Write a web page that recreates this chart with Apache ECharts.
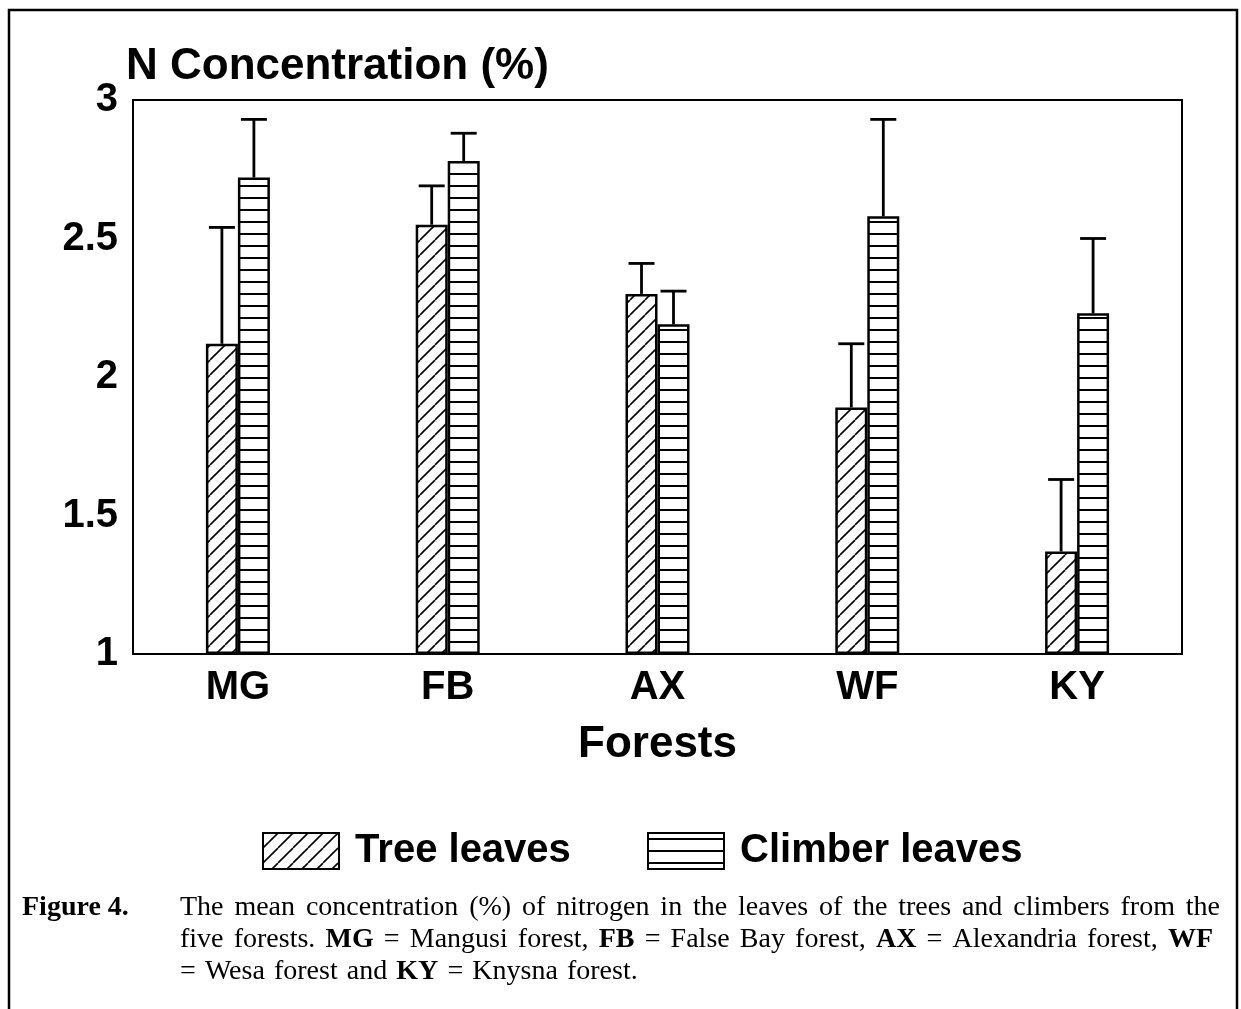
<!DOCTYPE html>
<html><head><meta charset="utf-8">
<script src="https://cdn.jsdelivr.net/npm/echarts@6/dist/echarts.min.js"></script>
<style>html,body{margin:0;padding:0;background:#fff}#c{width:1241px;height:1009px}</style>
</head><body><div id="c"></div>
<script>
// ---- data ----
const categories = ['MG', 'FB', 'AX', 'WF', 'KY'];
const treeMean = [2.12, 2.55, 2.30, 1.89, 1.37];
const treeUpper = [2.54, 2.69, 2.41, 2.12, 1.63];
const climberMean = [2.72, 2.78, 2.19, 2.58, 2.23];
const climberUpper = [2.93, 2.88, 2.31, 2.93, 2.50];
const seriesNames = ['Tree leaves', 'Climber leaves'];
const titleText = 'N Concentration (%)';
const xAxisName = 'Forests';
const captionLabel = 'Figure 4.';
const captionLines = [
  'The mean concentration (%) of nitrogen in the leaves of the trees and climbers from the',
  'five forests. **MG** = Mangusi forest, **FB** = False Bay forest, **AX** = Alexandria forest, **WF**',
  '= Wesa forest and **KY** = Knysna forest.'
];

// ---- patterns ----
function diagPattern() {
  const s = 15, c = document.createElement('canvas');
  c.width = s; c.height = s;
  const g = c.getContext('2d');
  g.fillStyle = '#fff'; g.fillRect(0, 0, s, s);
  g.strokeStyle = '#000'; g.lineWidth = 1.6;
  for (const o of [-s, 0, s]) {
    g.beginPath(); g.moveTo(o, s); g.lineTo(o + s, 0); g.stroke();
  }
  return c;
}
function horizPattern() {
  const c = document.createElement('canvas');
  c.width = 8; c.height = 12;
  const g = c.getContext('2d');
  g.fillStyle = '#fff'; g.fillRect(0, 0, 8, 12);
  g.fillStyle = '#000'; g.fillRect(0, 5, 8, 2);
  return c;
}
const treeFill = { image: diagPattern(), repeat: 'repeat' };
const climbFill = { image: horizPattern(), repeat: 'repeat' };

const SANS = '"Liberation Sans", Arial, Helvetica, sans-serif';
const SERIF = '"Liberation Serif", "Times New Roman", serif';

function errorSeries(means, uppers, offset) {
  return {
    type: 'custom',
    silent: true,
    z: 5,
    data: categories.map((c, i) => [i, means[i], uppers[i]]),
    encode: { x: 0, y: [1, 2] },
    renderItem: function (params, api) {
      const base = api.coord([api.value(0), api.value(1)]);
      const top = api.coord([api.value(0), api.value(2)]);
      const x = base[0] + offset;
      const st = { stroke: '#000', lineWidth: 2.8 };
      return {
        type: 'group',
        children: [
          { type: 'line', shape: { x1: x, y1: base[1], x2: x, y2: top[1] }, style: st },
          { type: 'line', shape: { x1: x - 13, y1: top[1], x2: x + 13, y2: top[1] }, style: st }
        ]
      };
    }
  };
}

// ---- caption layout (justified words) ----
const mctx = document.createElement('canvas').getContext('2d');
const CAP_SIZE = 28;
function measure(t, bold) {
  mctx.font = (bold ? 'bold ' : '') + CAP_SIZE + 'px ' + SERIF;
  return mctx.measureText(t).width;
}
const captionGraphics = [];
captionGraphics.push({
  type: 'text', x: 22, y: 908,
  style: { text: captionLabel, fontSize: CAP_SIZE, fontFamily: SERIF, fontWeight: 'bold', fill: '#000', verticalAlign: 'middle' }
});
const lineYs = [908, 940, 972];
const lineRight = [1220, 1213, null];
captionLines.forEach((line, li) => {
  const words = line.split(' ').map(w => {
    const bold = /^\*\*.*\*\*$/.test(w);
    const t = bold ? w.slice(2, -2) : w;
    return { t, bold, w: measure(t, bold) };
  });
  const sum = words.reduce((a, b) => a + b.w, 0);
  const gap = lineRight[li] ? (lineRight[li] - 180 - sum) / (words.length - 1) : measure(' ', false) * 1.3;
  let x = 180;
  words.forEach(wd => {
    captionGraphics.push({
      type: 'text', x: x, y: lineYs[li],
      style: { text: wd.t, fontSize: CAP_SIZE, fontFamily: SERIF, fontWeight: wd.bold ? 'bold' : 'normal', fill: '#000', verticalAlign: 'middle' }
    });
    x += wd.w + gap;
  });
});

const chart = echarts.init(document.getElementById('c'), null, { renderer: 'canvas' });
const legendText = { fontSize: 40, fontWeight: 'bold', color: '#000', fontFamily: SANS };
chart.setOption({
  animation: false,
  backgroundColor: '#fff',
  title: {
    text: titleText, left: 126, top: 45, padding: 0,
    textStyle: { fontSize: 44, fontWeight: 'bold', color: '#000', fontFamily: SANS }
  },
  grid: { left: 133, right: 59, top: 100, bottom: 355, show: true, borderColor: '#000', borderWidth: 2, containLabel: false },
  legend: [
    { data: [seriesNames[0]], left: 257, top: 826, itemWidth: 76, itemHeight: 36, icon: 'rect', formatter: ' {name}', selectedMode: false, textStyle: legendText },
    { data: [seriesNames[1]], left: 642, top: 826, itemWidth: 76, itemHeight: 36, icon: 'rect', formatter: ' {name}', selectedMode: false, textStyle: legendText }
  ],
  xAxis: {
    type: 'category', data: categories,
    axisLine: { lineStyle: { color: '#000', width: 2 } },
    axisTick: { show: false },
    axisLabel: { fontSize: 40, fontWeight: 'bold', color: '#000', fontFamily: SANS, margin: 14 },
    name: xAxisName, nameLocation: 'middle', nameGap: 69,
    nameTextStyle: { fontSize: 44, fontWeight: 'bold', color: '#000', fontFamily: SANS }
  },
  yAxis: {
    type: 'value', min: 1, max: 3, interval: 0.5, startValue: 1,
    axisLine: { show: true, lineStyle: { color: '#000', width: 2 } },
    axisTick: { show: false },
    splitLine: { show: false },
    axisLabel: { fontSize: 40, fontWeight: 'bold', color: '#000', fontFamily: SANS, margin: 15 }
  },
  series: [
    { name: seriesNames[0], type: 'bar', data: treeMean, barWidth: 32, barGap: '0%',
      itemStyle: { color: treeFill, borderColor: '#000', borderWidth: 2.5 } },
    { name: seriesNames[1], type: 'bar', data: climberMean, barWidth: 32, barGap: '0%',
      itemStyle: { color: climbFill, borderColor: '#000', borderWidth: 2.5 } },
    errorSeries(treeMean, treeUpper, -16),
    errorSeries(climberMean, climberUpper, 16)
  ],
  graphic: [
    { type: 'rect', shape: { x: 9, y: 10, width: 1228, height: 1020 }, style: { fill: 'none', stroke: '#000', lineWidth: 2.5 }, silent: true },
    ...captionGraphics
  ]
});
</script></body></html>
